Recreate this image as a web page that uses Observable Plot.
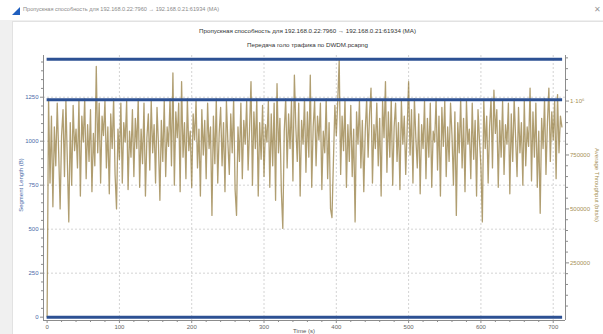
<!DOCTYPE html>
<html>
<head>
<meta charset="utf-8">
<script src="https://cdn.jsdelivr.net/npm/d3@7"></script>
<script src="https://cdn.jsdelivr.net/npm/@observablehq/plot@0.6"></script>
<style>
html,body{margin:0;padding:0;}
body{width:603px;height:334px;overflow:hidden;position:relative;background:#f0f0f0;font-family:"Liberation Sans",Arial,sans-serif;}
#titlebar{position:absolute;left:0;top:0;width:603px;height:20px;background:#ffffff;}
#icon{position:absolute;left:12px;top:7px;width:8px;height:8px;background:#1f5fbf;clip-path:polygon(100% 0,100% 100%,0 100%);}
#wtitle{position:absolute;left:23px;top:6px;font-size:5.6px;color:#8a8a8a;white-space:nowrap;}
#close{position:absolute;left:594px;top:5px;font-size:8px;color:#999;}
#panel{position:absolute;left:12px;top:21px;width:591px;height:313px;background:#ffffff;border-left:1px solid #e2e2e2;border-top:1px solid #e2e2e2;}
.ttl{position:absolute;left:12px;width:591px;text-align:center;font-size:6.2px;color:#333;white-space:nowrap;}
#plots{position:absolute;left:0;top:50px;width:603px;height:300px;}
#plots svg{position:absolute;left:0;top:0;}
.alab{position:absolute;font-size:6px;white-space:nowrap;transform-origin:center center;}
</style>
</head>
<body>
<div id="titlebar"><div id="icon"></div><div id="wtitle">Пропускная способность для 192.168.0.22:7960 → 192.168.0.21:61934 (MA)</div><div id="close">✕</div></div>
<div id="panel"></div>
<div class="ttl" id="t1" style="top:27px;">Пропускная способность для 192.168.0.22:7960 → 192.168.0.21:61934 (MA)</div>
<div class="ttl" id="t2" style="top:41px;">Передача голо трафика по DWDM.pcapng</div>
<div id="plots"></div>
<div class="alab" id="ylab" style="left:-9px;top:182px;color:#4a6aa8;transform:rotate(-90deg);width:60px;text-align:center;">Segment Length (B)</div>
<div class="alab" id="y2lab" style="left:557px;top:182px;color:#a68f55;transform:rotate(90deg);width:80px;text-align:center;">Average Throughput (bits/s)</div>
<div class="alab" id="xlab" style="left:284px;top:328px;color:#555;width:40px;text-align:center;">Time (s)</div>
<script>
// ---- data ----
const timeStart = 0;      // s
const timeStep = 2;       // s between throughput samples
const throughputKbps = [
  0, 1010, 620, 930, 510, 880, 700, 990, 760, 500,
  840, 960, 650, 1000, 720, 440, 900, 610, 980, 770,
  870, 690, 1000, 560, 930, 810, 1010, 640, 890, 720,
  960, 580, 850, 700, 1160, 760, 990, 620, 930, 840,
  1000, 690, 880, 570, 940, 780, 1010, 660, 500, 870,
  730, 990, 620, 900, 810, 1000, 590, 860, 740, 960,
  650, 920, 780, 1010, 600, 870, 710, 990, 560, 830,
  940, 680, 1000, 760, 890, 620, 970, 800, 540, 910,
  720, 1000, 650, 880, 790, 1010, 700, 1130, 610, 950,
  830, 990, 580, 1090, 740, 900, 640, 1010, 770, 860,
  600, 940, 820, 1000, 690, 870, 560, 960, 750, 910,
  640, 990, 780, 880, 470, 930, 710, 1010, 620, 850,
  970, 700, 900, 580, 1000, 810, 660, 940, 760, 1010,
  590, 470, 880, 720, 990, 640, 910, 800, 1000, 680,
  870, 1090, 610, 950, 780, 1010, 560, 900, 730, 980,
  650, 890, 810, 1000, 600, 940, 700, 990, 540, 1080,
  760, 920, 580, 410, 860, 1010, 690, 940, 780, 1000,
  630, 1120, 880, 720, 990, 560, 910, 800, 1010, 670,
  950, 740, 1120, 600, 880, 1000, 700, 930, 820, 990,
  590, 860, 760, 1010, 640, 900, 500, 460, 720, 980,
  840, 1000, 1190, 660, 930, 770, 1010, 600, 890, 720,
  980, 650, 870, 440, 950, 800, 1000, 690, 910, 580,
  860, 1010, 740, 940, 1060, 620, 890, 780, 990, 700,
  920, 560, 1000, 830, 1090, 670, 950, 740, 1010, 610,
  880, 990, 720, 900, 590, 1000, 800, 930, 660, 870,
  1090, 750, 960, 620, 1010, 830, 690, 940, 570, 890,
  780, 1000, 640, 920, 740, 990, 600, 860, 810, 1010,
  680, 930, 560, 970, 790, 1000, 650, 880, 720, 990,
  840, 610, 950, 470, 900, 760, 1010, 690, 920, 580,
  1000, 800, 870, 640, 990, 730, 910, 560, 960, 820,
  700, 440, 1000, 780, 930, 620, 880, 1010, 690, 1050,
  850, 960, 600, 910, 740, 1000, 660, 890, 800, 990,
  570, 940, 720, 1010, 830, 650, 970, 760, 900, 610,
  1000, 700, 880, 790, 1060, 630, 950, 740, 990, 600,
  860, 480, 920, 780, 1010, 660, 900, 1060, 720, 950,
  820, 1000, 640, 1030, 760, 930, 880
];
const segmentLengths = [1466, 1236, 0];   // bytes
const segmentSpan = [0, 713];            // s
const xTicks = [0, 100, 200, 300, 400, 500, 600, 700];
const leftTicks = [0, 250, 500, 750, 1000, 1250];
const rightTicks = [250000, 500000, 750000, 1000000];
const rightTickLabels = ["250000", "500000", "750000", "1·10⁶"];

// ---- layout ----
const xDomain = [-5, 717];
const leftDomain = [-19, 1487];
const rightDomain = [-17000, 1211000];
const xMinor = d3.range(0, 720, 20).filter(v => v % 100 !== 0);
const leftMinor = d3.range(0, 1500, 50).filter(v => v % 250 !== 0);
const rightMinor = d3.range(50000, 1250000, 50000).filter(v => v % 250000 !== 0);

const throughput = throughputKbps.map((v, i) => ({t: timeStart + i * timeStep, bps: v * 1000}));

const common = {
  width: 603, height: 300,
  marginLeft: 43, marginRight: 38, marginTop: 5, marginBottom: 30,
  style: {background: "transparent", fontFamily: "'Liberation Sans', Arial, sans-serif", fontSize: "6px", overflow: "visible"}
};
const axisGray = "#8c8c8c";

// layer 1: grid
const grid = Plot.plot({
  ...common,
  x: {domain: xDomain, axis: null},
  y: {domain: leftDomain, axis: null},
  marks: [
    Plot.gridX(xTicks.filter(d => d > 0), {stroke: "#d4d4d4", strokeOpacity: 1, strokeDasharray: "2,2"}),
    Plot.gridY(leftTicks.filter(d => d > 0), {stroke: "#d4d4d4", strokeOpacity: 1, strokeDasharray: "2,2"})
  ]
});

// layer 2: throughput (right axis)
const tp = Plot.plot({
  ...common,
  x: {domain: xDomain, axis: null},
  y: {domain: rightDomain, axis: null},
  marks: [
    Plot.line(throughput, {x: "t", y: "bps", stroke: "#8f7535", strokeOpacity: 0.7, strokeWidth: 1.3}),
    Plot.axisY(rightMinor, {anchor: "right", tickSize: 2, stroke: axisGray, label: null, tickFormat: () => ""}),
    Plot.axisY(rightTicks, {anchor: "right", tickSize: 3, tickPadding: 1.5, stroke: axisGray, fill: "#a68f55", label: null,
      tickFormat: (d) => rightTickLabels[rightTicks.indexOf(d)]}),
    Plot.ruleX([xDomain[1]], {stroke: axisGray})
  ]
});

// layer 3: segment length (left axis) + x axis
const seg = Plot.plot({
  ...common,
  x: {domain: xDomain, axis: null},
  y: {domain: leftDomain, axis: null},
  marks: [
    Plot.ruleY(segmentLengths, {x1: segmentSpan[0], x2: segmentSpan[1], stroke: "#2d5193", strokeWidth: 3}),
    Plot.axisY(leftMinor, {anchor: "left", tickSize: 2, stroke: axisGray, label: null, tickFormat: () => ""}),
    Plot.axisY(leftTicks, {anchor: "left", tickSize: 3, tickPadding: 2, stroke: axisGray, fill: "#4a6aa8", label: null, tickFormat: d => String(d)}),
    Plot.axisX(xMinor, {anchor: "bottom", tickSize: 2, stroke: axisGray, label: null, tickFormat: () => ""}),
    Plot.axisX(xTicks, {anchor: "bottom", tickSize: 3, tickPadding: 1.5, stroke: axisGray, fill: "#666", label: null, tickFormat: d => String(d)}),
    Plot.ruleX([xDomain[0]], {stroke: axisGray}),
    Plot.ruleY([leftDomain[0]], {stroke: axisGray})
  ]
});

const host = document.getElementById("plots");
host.append(grid, tp, seg);
</script>
</body>
</html>
